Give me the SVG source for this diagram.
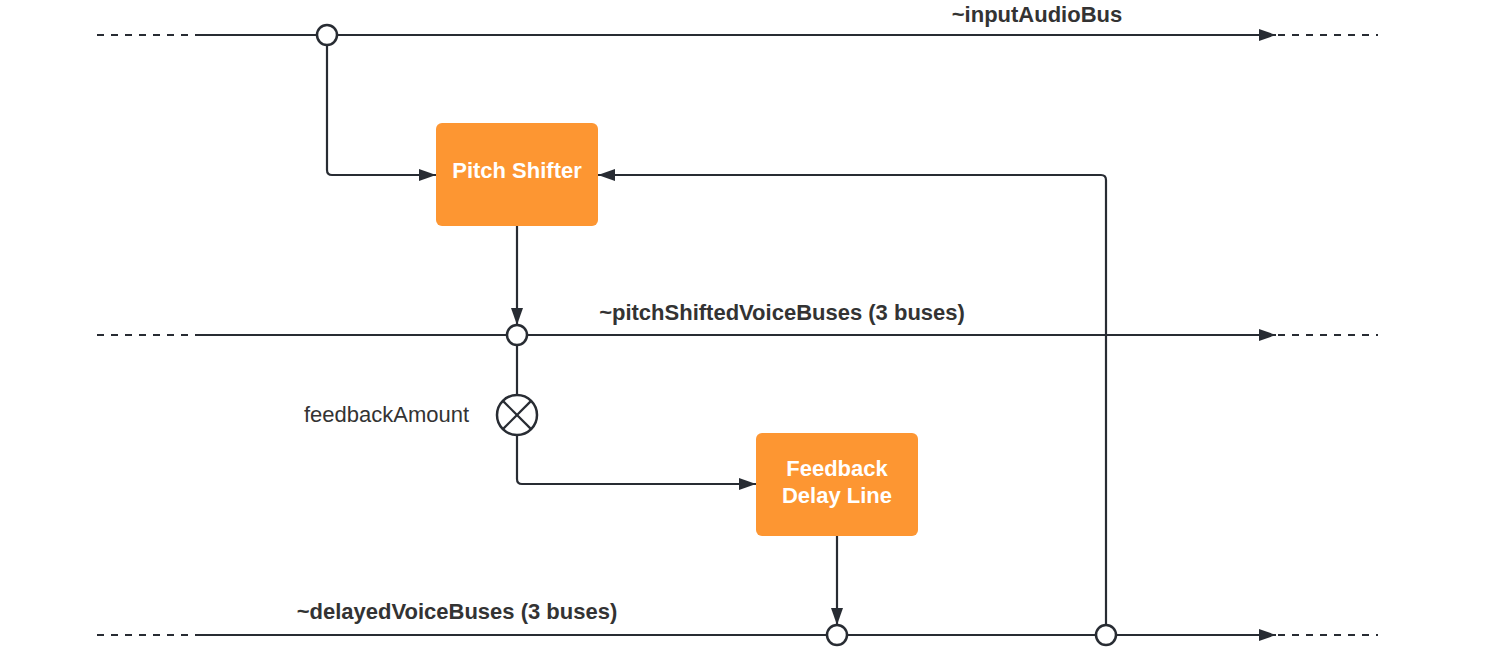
<svg xmlns="http://www.w3.org/2000/svg" width="1487" height="650" viewBox="0 0 1487 650">
<defs>
<style>
.ln{fill:none;stroke:#282c33;stroke-width:2.2}
.dash{fill:none;stroke:#282c33;stroke-width:2.2;stroke-dasharray:7 7}
.jn{fill:#fff;stroke:#282c33;stroke-width:2.5}
.box{fill:#fd9632}
.bt{font-family:"Liberation Sans",Arial,sans-serif;font-weight:bold;font-size:22px;fill:#fff;text-anchor:middle}
.lb{font-family:"Liberation Sans",Arial,sans-serif;font-weight:bold;font-size:22px;fill:#333;text-anchor:middle}
.rl{font-family:"Liberation Sans",Arial,sans-serif;font-size:22px;fill:#333}
</style>
<marker id="ah" viewBox="0 0 17 12" refX="17" refY="6" markerWidth="17" markerHeight="12" markerUnits="userSpaceOnUse" orient="auto">
<path d="M0,0 L17,6 L0,12 Z" fill="#282c33"/>
</marker>
</defs>
<rect width="1487" height="650" fill="#fff"/>
<g id="connectors">
<line class="dash" x1="97" y1="35" x2="197" y2="35"/>
<line class="ln" x1="197" y1="35" x2="1276" y2="35" marker-end="url(#ah)"/>
<line class="dash" x1="1278" y1="35" x2="1378" y2="35"/>
<line class="dash" x1="97" y1="335" x2="197" y2="335"/>
<line class="ln" x1="197" y1="335" x2="1276" y2="335" marker-end="url(#ah)"/>
<line class="dash" x1="1278" y1="335" x2="1378" y2="335"/>
<line class="dash" x1="97" y1="635" x2="197" y2="635"/>
<line class="ln" x1="197" y1="635" x2="1276" y2="635" marker-end="url(#ah)"/>
<line class="dash" x1="1278" y1="635" x2="1378" y2="635"/>
<path class="ln" d="M327,45 V170 Q327,175 332,175 H436" marker-end="url(#ah)"/>
<path class="ln" d="M1106,625 V180 Q1106,175 1101,175 H598" marker-end="url(#ah)"/>
<path class="ln" d="M517,226 V325" marker-end="url(#ah)"/>
<path class="ln" d="M517,345 V395"/>
<path class="ln" d="M517,435 V479 Q517,484 522,484 H756" marker-end="url(#ah)"/>
<path class="ln" d="M837,536 V625" marker-end="url(#ah)"/>
<text class="lb" x="1037" y="22">~inputAudioBus</text>
<text class="lb" x="782" y="320">~pitchShiftedVoiceBuses (3 buses)</text>
<text class="lb" x="457" y="619">~delayedVoiceBuses (3 buses)</text>
</g>
<g id="j1"><circle class="jn" cx="327" cy="35" r="10"/></g>
<g id="j2"><circle class="jn" cx="517" cy="335" r="10"/></g>
<g id="j3"><circle class="jn" cx="837" cy="635" r="10"/></g>
<g id="j4"><circle class="jn" cx="1106" cy="635" r="10"/></g>
<g id="pitchShifter">
<rect class="box" x="436" y="123" width="162" height="103" rx="6"/>
<text class="bt" x="517" y="178">Pitch Shifter</text>
</g>
<g id="multiply">
<circle class="jn" cx="517" cy="415" r="20"/>
<line class="ln" x1="502.9" y1="400.9" x2="531.1" y2="429.1" stroke-width="2.5"/>
<line class="ln" x1="531.1" y1="400.9" x2="502.9" y2="429.1" stroke-width="2.5"/>
<text class="rl" x="304" y="422">feedbackAmount</text>
</g>
<g id="feedbackDelay">
<rect class="box" x="756" y="433" width="162" height="103" rx="6"/>
<text class="bt" x="837" y="476">Feedback</text>
<text class="bt" x="837" y="503">Delay Line</text>
</g>
</svg>
